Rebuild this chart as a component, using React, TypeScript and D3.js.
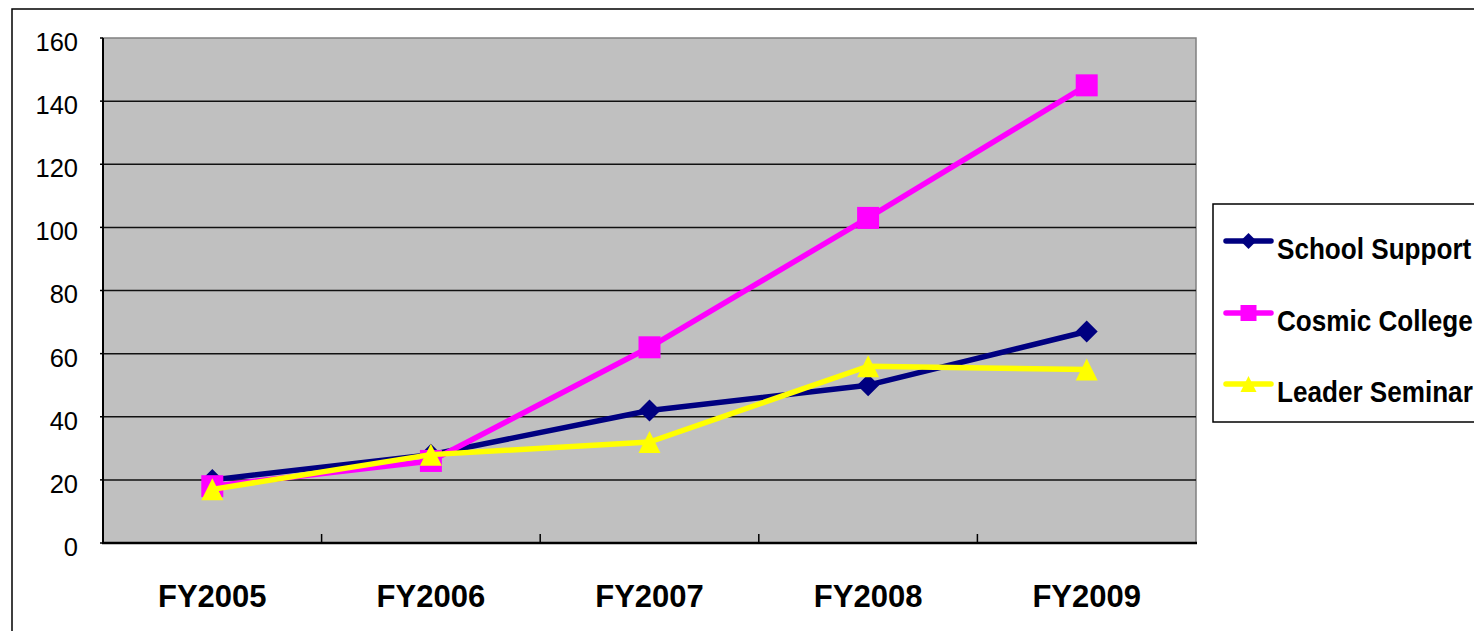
import React, { useEffect, useRef } from 'react';
import * as d3 from 'd3';

const years = ['FY2005', 'FY2006', 'FY2007', 'FY2008', 'FY2009'];
const schoolSupport = [20, 28, 42, 50, 67];
const cosmicCollege = [18, 26, 62, 103, 145];
const leaderSeminar = [17, 28, 32, 56, 55];
const yTicks = [0, 20, 40, 60, 80, 100, 120, 140, 160];

const seriesList = [
  { name: 'School Support', values: schoolSupport, color: '#000080', marker: 'diamond' },
  { name: 'Cosmic College', values: cosmicCollege, color: '#FF00FF', marker: 'square' },
  { name: 'Leader Seminar', values: leaderSeminar, color: '#FFFF00', marker: 'triangle' },
];

const markerPath = (type: string, s: number) => {
  const h = s / 2;
  if (type === 'diamond') return `M0,${-h}L${h},0L0,${h}L${-h},0Z`;
  if (type === 'square') return `M${-h},${-h}H${h}V${h}H${-h}Z`;
  return `M0,${-h}L${h},${h}L${-h},${h}Z`;
};

const App = () => {
  const svgRef = useRef<SVGSVGElement>(null);

  useEffect(() => {
    const svg = d3.select(svgRef.current);
    svg.selectAll('*').remove();

    const width = 1474;
    const height = 631;
    const plot = { left: 103, right: 1196, top: 38, bottom: 543 };

    // outer chart border (runs off the right and bottom edge)
    svg.append('rect')
      .attr('x', 12).attr('y', 9)
      .attr('width', 1600).attr('height', 800)
      .attr('fill', '#fff')
      .attr('stroke', '#000').attr('stroke-width', 1.5);

    const x = d3.scaleBand()
      .domain(years)
      .range([plot.left, plot.right]);

    const y = d3.scaleLinear()
      .domain([0, 160])
      .range([plot.bottom, plot.top]);

    // plot area
    svg.append('rect')
      .attr('x', plot.left).attr('y', plot.top)
      .attr('width', plot.right - plot.left)
      .attr('height', plot.bottom - plot.top)
      .attr('fill', '#C0C0C0')
      .attr('stroke', '#808080').attr('stroke-width', 1.5);

    // gridlines
    svg.append('g')
      .selectAll('line')
      .data(yTicks.filter(t => t > 0 && t < 160))
      .join('line')
      .attr('x1', plot.left).attr('x2', plot.right)
      .attr('y1', d => y(d)).attr('y2', d => y(d))
      .attr('stroke', '#111').attr('stroke-width', 1.5);

    // y axis
    svg.append('line')
      .attr('x1', plot.left).attr('x2', plot.left)
      .attr('y1', plot.top).attr('y2', plot.bottom)
      .attr('stroke', '#000').attr('stroke-width', 2);
    svg.append('g')
      .selectAll('line')
      .data(yTicks)
      .join('line')
      .attr('x1', plot.left - 3).attr('x2', plot.left)
      .attr('y1', d => y(d)).attr('y2', d => y(d))
      .attr('stroke', '#000').attr('stroke-width', 1.5);
    svg.append('g')
      .selectAll('text')
      .data(yTicks)
      .join('text')
      .attr('x', 78)
      .attr('y', d => y(d) + 4)
      .attr('dy', '0.35em')
      .attr('text-anchor', 'end')
      .style('font-family', '"Liberation Sans", Arial, sans-serif')
      .style('font-size', '25.5px')
      .attr('fill', '#000')
      .text(d => d);

    // x axis
    svg.append('line')
      .attr('x1', plot.left - 1).attr('x2', plot.right + 1)
      .attr('y1', plot.bottom).attr('y2', plot.bottom)
      .attr('stroke', '#000').attr('stroke-width', 2.5);
    const bounds = years.slice(1).map(d => x(d) as number);
    svg.append('g')
      .selectAll('line')
      .data(bounds)
      .join('line')
      .attr('x1', d => d).attr('x2', d => d)
      .attr('y1', plot.bottom - 9).attr('y2', plot.bottom)
      .attr('stroke', '#000').attr('stroke-width', 1.5);
    svg.append('g')
      .selectAll('text')
      .data(years)
      .join('text')
      .attr('x', d => (x(d) as number) + x.bandwidth() / 2)
      .attr('y', 607)
      .attr('text-anchor', 'middle')
      .style('font-family', '"Liberation Sans", Arial, sans-serif')
      .style('font-size', '31px')
      .style('font-weight', 'bold')
      .attr('fill', '#000')
      .text(d => d);

    // series
    const cx = (i: number) => (x(years[i]) as number) + x.bandwidth() / 2;
    const line = d3.line<number>()
      .x((_, i) => cx(i))
      .y(d => y(d));

    seriesList.forEach(s => {
      const g = svg.append('g');
      g.append('path')
        .attr('d', line(s.values))
        .attr('fill', 'none')
        .attr('stroke', s.color)
        .attr('stroke-width', 5.5)
        .attr('stroke-linejoin', 'round');
      g.selectAll('path.m')
        .data(s.values)
        .join('path')
        .attr('class', 'm')
        .attr('transform', (d, i) => `translate(${cx(i)},${y(d)})`)
        .attr('d', markerPath(s.marker, 22))
        .attr('fill', s.color);
    });

    // legend
    const legend = svg.append('g');
    legend.append('rect')
      .attr('x', 1213).attr('y', 204)
      .attr('width', 300).attr('height', 218)
      .attr('fill', '#fff')
      .attr('stroke', '#000').attr('stroke-width', 1.5);
    const legendY = [241, 313, 384];
    seriesList.forEach((s, i) => {
      const ly = legendY[i];
      legend.append('line')
        .attr('x1', 1226).attr('x2', 1271)
        .attr('y1', ly).attr('y2', ly)
        .attr('stroke', s.color).attr('stroke-width', 5.5)
        .attr('stroke-linecap', 'round');
      legend.append('path')
        .attr('transform', `translate(1248.5,${ly})`)
        .attr('d', markerPath(s.marker, 16))
        .attr('fill', s.color);
      legend.append('text')
        .attr('transform', `translate(1277,${ly + 18}) scale(0.87,1)`)
        .style('font-family', '"Liberation Sans", Arial, sans-serif')
        .style('font-size', '30px')
        .style('font-weight', 'bold')
        .attr('fill', '#000')
        .text(s.name);
    });

    svg.attr('width', width).attr('height', height);
  }, []);

  return (
    <svg
      ref={svgRef}
      width={1474}
      height={631}
      style={{ position: 'absolute', left: 0, top: 0, background: '#fff' }}
    />
  );
};

export default App;
